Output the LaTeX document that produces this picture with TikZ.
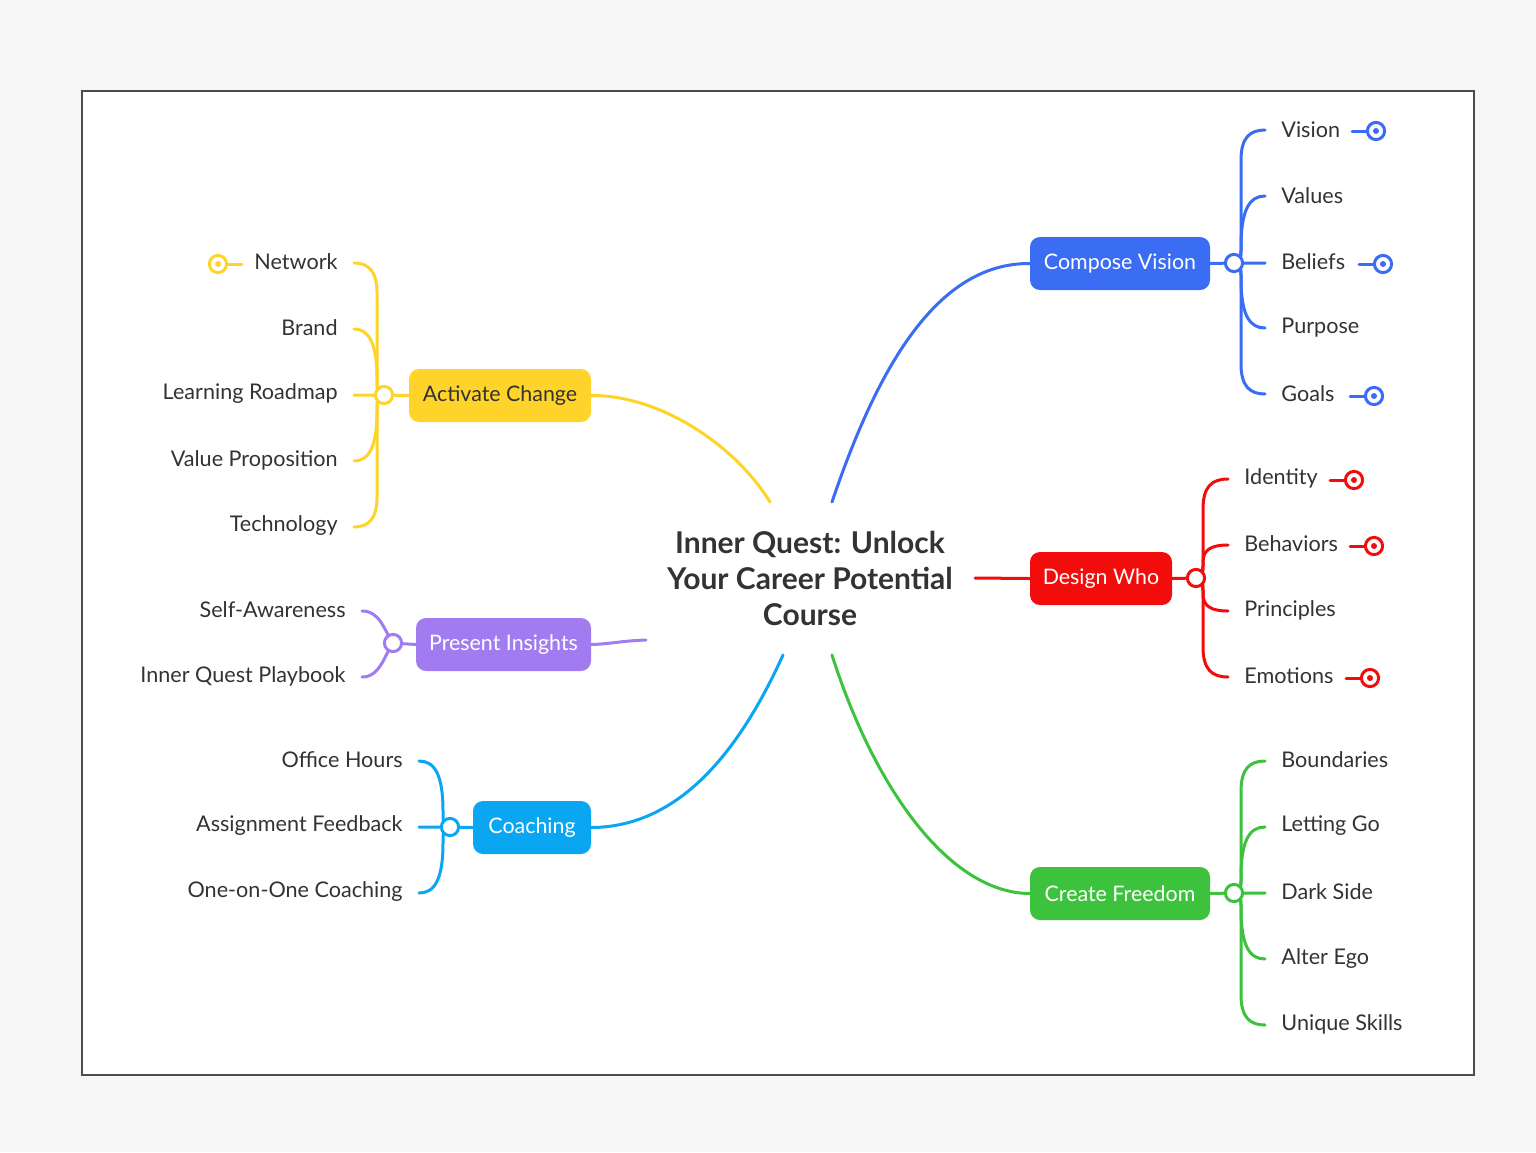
\documentclass[tikz,border=0pt]{standalone}
\usepackage{fontspec}
\setmainfont{Lato}
\definecolor{cBlue}{HTML}{3A6CF4}
\definecolor{cRed}{HTML}{F20C0C}
\definecolor{cGreen}{HTML}{3DC23D}
\definecolor{cYellow}{HTML}{FFD42A}
\definecolor{cPurple}{HTML}{A07CF0}
\definecolor{cSky}{HTML}{0AA6F2}
\definecolor{cText}{HTML}{333333}
\definecolor{cBg}{HTML}{F6F6F6}
% bracket branch: color, jx, jy, ex, ey, side (+1 right, -1 left)
\newcommand\brX[6]{%
  \pgfmathsetmacro\sg{sign(#5-#3)}%
  \pgfmathsetmacro\dd{abs(#5-#3)}%
  \pgfmathsetmacro\hh{(\dd>=90) ? 30 : (\dd-16)}%
  \pgfmathsetmacro\vx{#2+#6*7}%
  \draw[branch,#1] (#2,#3) .. controls (\vx,#3+\sg*4) .. (\vx,#3+\sg*16) -- (\vx,#5-\sg*\hh)
     .. controls (\vx,#5-\sg*\hh*0.25) and (\vx+#6*9,#5) .. (#4,#5);}
\newcommand\tgtR[3]{% color x y (line to left)
  \draw[branch,#1] (#2-24,#3) -- (#2-8,#3);
  \draw[branch,#1,fill=white] (#2,#3) circle (4.3pt);
  \fill[#1] (#2,#3) circle (1.5pt);}
\newcommand\tgtL[3]{% color x y (line to right)
  \draw[branch,#1] (#2+24,#3) -- (#2+8,#3);
  \draw[branch,#1,fill=white] (#2,#3) circle (4.3pt);
  \fill[#1] (#2,#3) circle (1.5pt);}
\tikzset{
  branch/.style={line width=1.5pt,line cap=round},
  mainbox/.style={rounded corners=5pt,minimum height=26.5pt,inner sep=0pt,font=\fontsize{10.7}{12}\selectfont,text=white},
  leafR/.style={anchor=west,inner sep=0pt,font=\fontsize{10.8}{12}\selectfont,text=cText},
  leafL/.style={anchor=east,inner sep=0pt,font=\fontsize{10.8}{12}\selectfont,text=cText},
  junc/.style={circle,line width=1.5pt,fill=white,minimum size=8.6pt,inner sep=0pt},
}
\begin{document}
\begin{tikzpicture}[x=0.5pt,y=-0.5pt]
\useasboundingbox (0,0) rectangle (1536,1152);
\fill[cBg] (0,0) rectangle (1536,1152);
\draw[fill=white,draw=black!70,line width=0.8pt] (82,91) rectangle (1474,1075);

% center
\node[align=center,text=cText,font=\bfseries\fontsize{15}{18}\selectfont] (center) at (810,578) {Inner Quest: Unlock\\Your Career Potential\\Course};
\coordinate (cY) at (770,502);
\coordinate (cB) at (832,502);
\coordinate (cR) at (975,578);
\coordinate (cP) at (646,640);
\coordinate (cS) at (783,655);
\coordinate (cG) at (832,655);

% main nodes
\node[mainbox,fill=cBlue,minimum width=90pt] (cv) at (1120,263.5) {Compose Vision};
\node[mainbox,fill=cRed,minimum width=71pt] (dw) at (1101,578.5) {Design Who};
\node[mainbox,fill=cGreen,minimum width=90pt] (cf) at (1120,893.5) {Create Freedom};
\node[mainbox,fill=cYellow,minimum width=91pt,text=cText] (ac) at (500,395.5) {Activate Change};
\node[mainbox,fill=cPurple,minimum width=87.5pt] (pi) at (503.5,644.5) {Present Insights};
\node[mainbox,fill=cSky,minimum width=59pt] (co) at (532,827.5) {Coaching};

% center connectors
\draw[branch,cYellow] (cY) .. controls (735,445) and (660,395) .. (ac.east);
\draw[branch,cBlue] (cB) .. controls (880,360) and (940,263) .. (cv.west);
\draw[branch,cRed] (cR) -- (dw.west);
\draw[branch,cPurple] (cP) .. controls (620,641) and (610,644) .. (pi.east);
\draw[branch,cSky] (cS) .. controls (740,750) and (680,827) .. (co.east);
\draw[branch,cGreen] (cG) .. controls (875,790) and (950,893) .. (cf.west);

% blue branches
\brX{cBlue}{1234}{263}{1265}{130}{1}
\brX{cBlue}{1234}{263}{1265}{196}{1}
\brX{cBlue}{1234}{263}{1265}{328}{1}
\brX{cBlue}{1234}{263}{1265}{394}{1}
\draw[branch,cBlue] (cv.east) -- (1234,263) -- (1265,263);
% red
\brX{cRed}{1196}{578}{1228}{479}{1}
\brX{cRed}{1196}{578}{1228}{545}{1}
\brX{cRed}{1196}{578}{1228}{611}{1}
\brX{cRed}{1196}{578}{1228}{677}{1}
\draw[branch,cRed] (dw.east) -- (1196,578);
% green
\brX{cGreen}{1234}{893}{1265}{761}{1}
\brX{cGreen}{1234}{893}{1265}{827}{1}
\brX{cGreen}{1234}{893}{1265}{959}{1}
\brX{cGreen}{1234}{893}{1265}{1025}{1}
\draw[branch,cGreen] (cf.east) -- (1234,893) -- (1265,893);
% yellow
\brX{cYellow}{384}{395}{354}{263}{-1}
\brX{cYellow}{384}{395}{354}{329}{-1}
\brX{cYellow}{384}{395}{354}{461}{-1}
\brX{cYellow}{384}{395}{354}{527}{-1}
\draw[branch,cYellow] (ac.west) -- (384,395) -- (354,395);
% purple
\draw[branch,cPurple] (393,643) .. controls (384,630) and (380,611) .. (362,611);
\draw[branch,cPurple] (393,643) .. controls (384,656) and (380,677) .. (362,677);
\draw[branch,cPurple] (pi.west) -- (393,643);
% sky
\brX{cSky}{450}{827}{419}{761}{-1}
\brX{cSky}{450}{827}{419}{893}{-1}
\draw[branch,cSky] (co.west) -- (450,827) -- (419,827);

% junctions
\node[junc,draw=cBlue] (jb) at (1234,263) {};
\node[junc,draw=cRed] (jr) at (1196,578) {};
\node[junc,draw=cGreen] (jg) at (1234,893) {};
\node[junc,draw=cYellow] (jy) at (384,395) {};
\node[junc,draw=cPurple] (jp) at (393,643) {};
\node[junc,draw=cSky] (js) at (450,827) {};

% leaves
\node[leafR] (l1) at (1281,130) {Vision};
\node[leafR] (l2) at (1281,196) {Values};
\node[leafR] (l3) at (1281,262) {Beliefs};
\node[leafR] (l4) at (1281,328) {Purpose};
\node[leafR] (l5) at (1281,394) {Goals};
\node[leafR] (r1) at (1244,478) {Identity};
\node[leafR] (r2) at (1244,544) {Behaviors};
\node[leafR] (r3) at (1244,610) {Principles};
\node[leafR] (r4) at (1244,676) {Emotions};
\node[leafR] (g1) at (1281,760) {Boundaries};
\node[leafR] (g2) at (1281,826) {Letting Go};
\node[leafR] (g3) at (1281,892) {Dark Side};
\node[leafR] (g4) at (1281,958) {Alter Ego};
\node[leafR] (g5) at (1281,1024) {Unique Skills};
\node[leafL] (y1) at (338,262) {Network};
\node[leafL] (y2) at (338,328) {Brand};
\node[leafL] (y3) at (338,394) {Learning Roadmap};
\node[leafL] (y4) at (338,460) {Value Proposition};
\node[leafL] (y5) at (338,526) {Technology};
\node[leafL] (p1) at (346,610) {Self-Awareness};
\node[leafL] (p2) at (346,676) {Inner Quest Playbook};
\node[leafL] (s1) at (403,760) {Office Hours};
\node[leafL] (s2) at (403,826) {Assignment Feedback};
\node[leafL] (s3) at (403,892) {One-on-One Coaching};

% targets
\tgtR{cBlue}{1376}{131}
\tgtR{cBlue}{1383}{264}
\tgtR{cBlue}{1374}{396}
\tgtR{cRed}{1354}{480}
\tgtR{cRed}{1374}{546}
\tgtR{cRed}{1370}{678}
\tgtL{cYellow}{218}{264}
\end{tikzpicture}
\end{document}
